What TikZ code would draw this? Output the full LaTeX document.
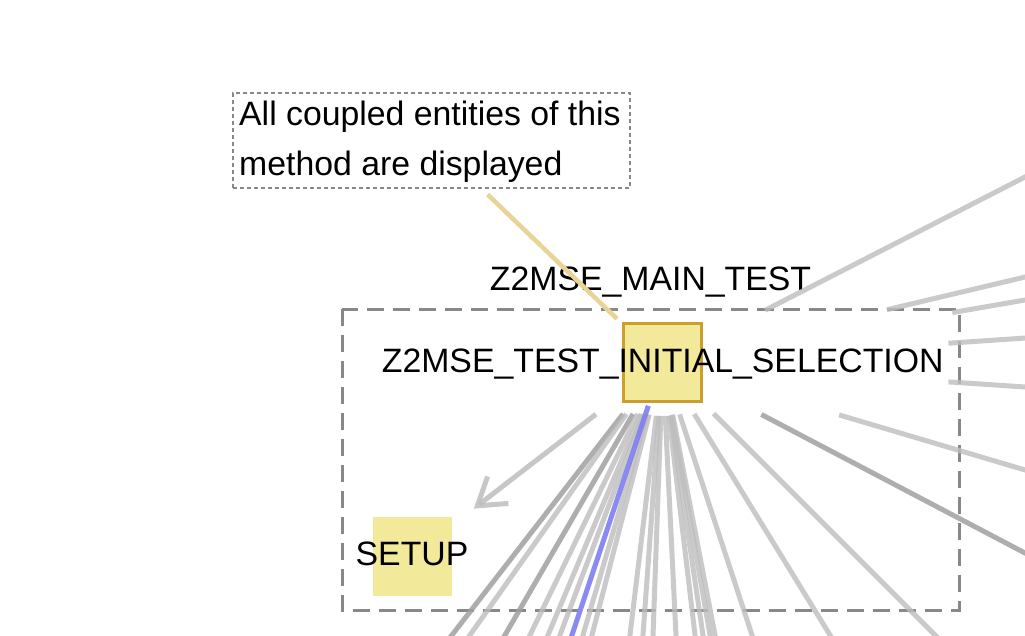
\documentclass[tikz,border=0pt]{standalone}
\usepackage{fontspec}
\setmainfont{Liberation Sans}
\usetikzlibrary{arrows.meta}
\definecolor{boxyellow}{RGB}{243,233,155}
\definecolor{boxgold}{RGB}{204,158,42}
\definecolor{linkgold}{RGB}{232,212,150}
\definecolor{edgegray}{RGB}{189,189,189}
\definecolor{edgedark}{RGB}{160,160,160}
\definecolor{framegray}{RGB}{136,136,136}
\definecolor{selblue}{RGB}{125,125,240}
\tikzset{
  lbl/.style={font=\fontsize{33.8pt}{40pt}\selectfont, inner sep=0pt, anchor=base, text=black},
  notetext/.style={lbl, anchor=base west},
  notebox/.style={draw=framegray, line width=2.5pt, dash pattern=on 4pt off 3pt, anchor=north west,
    minimum width=397pt, minimum height=95pt, inner sep=0pt},
  container/.style={draw=framegray, line width=3pt, dash pattern=on 17pt off 9pt},
  mainbox/.style={draw=boxgold, fill=boxyellow, line width=2.5pt, minimum size=78pt, inner sep=0pt},
  setupbox/.style={fill=boxyellow, minimum size=79pt, inner sep=0pt},
  edge/.style={draw=edgegray, line width=5pt, opacity=0.8},
  darkedge/.style={draw=edgedark, line width=5pt, opacity=0.85},
  seledge/.style={draw=selblue, line width=5pt, opacity=0.9},
  notelink/.style={draw=linkgold, line width=4.5pt},
  callarrow/.style={draw=edgegray, line width=5pt, opacity=0.85,
    -{Straight Barb[length=26pt, width=34pt, line width=5pt]}}
}
\begin{document}
\begin{tikzpicture}[x=1pt,y=-1pt]
\useasboundingbox (0,0) rectangle (1025,635);
\clip (0,0) rectangle (1025,635);

% container of the class
\draw[container] (342,309) rectangle (959,610);
\node[lbl] (classlbl) at (650.5,290) {Z2MSE\_MAIN\_TEST};

% note
\node[notebox] (note) at (231.5,91.5) {};
\node[notetext] (note1) at (239,125) {All coupled entities of this};
\node[notetext] (note2) at (239,175) {method are displayed};

% methods
\node[mainbox] (main) at (662.7,362.7) {};
\node[setupbox] (setup) at (412.3,556) {};

% far ends (outside the picture)
\coordinate (b1) at (440.4,650);
\coordinate (b2) at (459.4,650);
\coordinate (b3) at (496.3,650);
\coordinate (b4) at (522.7,650);
\coordinate (b5) at (541.7,650);
\coordinate (b6) at (554.3,650);
\coordinate (b7) at (567.0,650);
\coordinate (b8) at (578.6,650);
\coordinate (b9) at (588.1,650);
\coordinate (b10) at (628.2,650);
\coordinate (b11) at (641.9,650);
\coordinate (b12) at (652.5,650);
\coordinate (b13) at (676.7,650);
\coordinate (b14) at (696.8,650);
\coordinate (b15) at (705.2,650);
\coordinate (b16) at (712.6,650);
\coordinate (b17) at (717.9,650);
\coordinate (b18) at (756.9,650);
\coordinate (b19) at (839.2,650);
\coordinate (b20) at (950.0,650);
\coordinate (r1) at (1040,560.9);
\coordinate (r2) at (1040,474.4);
\coordinate (r3) at (1040,388.0);
\coordinate (r4) at (1040,337.0);
\coordinate (r5) at (1040,297.4);
\coordinate (r6) at (1040,273.5);
\coordinate (r7) at (1040,169.3);

% edges fanning down
\draw[darkedge, shorten <=14pt] (main) -- (b1);
\draw[edge, shorten <=13.5pt] (main) -- (b2);
\draw[darkedge, shorten <=12.7pt] (main) -- (b3);
\draw[edge, shorten <=12.2pt] (main) -- (b4);
\draw[edge, shorten <=12pt] (main) -- (b5);
\draw[edge, shorten <=12pt] (main) -- (b6);
\draw[edge, shorten <=12pt] (main) -- (b8);
\draw[edge, shorten <=12pt] (main) -- (b9);
\draw[edge, shorten <=13pt] (main) -- (b10);
\draw[edge, shorten <=13pt] (main) -- (b11);
\draw[edge, shorten <=13pt] (main) -- (b12);
\draw[edge, shorten <=13pt] (main) -- (b13);
\draw[edge, shorten <=13pt] (main) -- (b14);
\draw[edge, shorten <=13pt] (main) -- (b15);
\draw[edge, shorten <=12pt] (main) -- (b16);
\draw[edge, shorten <=12pt] (main) -- (b17);
\draw[edge, shorten <=12pt] (main) -- (b18);
\draw[edge, shorten <=13pt] (main) -- (b19);
\draw[edge, shorten <=15pt] (main) -- (b20);
\draw[seledge, shorten <=3pt] (main) -- (b7);

% edges to the right
\draw[darkedge, shorten <=66pt] (main) -- (r1);
\draw[edge, shorten <=142pt] (main) -- (r2);
\draw[edge, shorten <=246pt] (main) -- (r3);
\draw[edge, shorten <=246pt] (main) -- (r4);
\draw[edge, shorten <=253pt] (main) -- (r5);
\draw[edge, shorten <=189pt] (main) -- (r6);
\draw[edge, shorten <=70pt] (main) -- (r7);

% call to SETUP
\draw[callarrow, shorten <=33.5pt, shorten >=27.5pt] (main) -- (setup);

% note link
\draw[notelink, shorten <=8pt, shorten >=7.5pt] (note) -- (main);

% labels
\node[lbl] (mainlbl) at (662.7,372) {Z2MSE\_TEST\_INITIAL\_SELECTION};
\node[lbl] (setuplbl) at (412,565) {SETUP};
\end{tikzpicture}
\end{document}
